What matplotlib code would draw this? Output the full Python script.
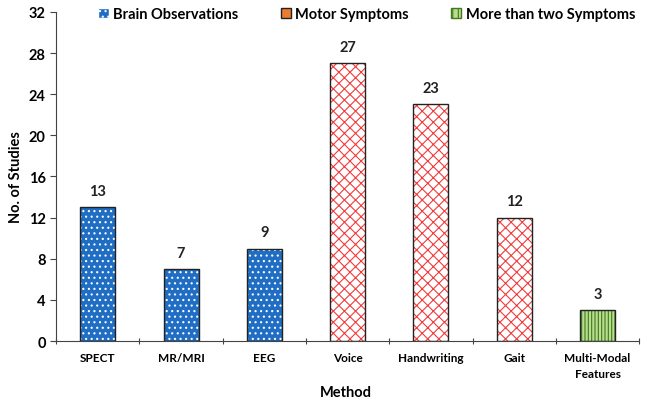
import matplotlib.pyplot as plt
from matplotlib.patches import Patch
import numpy as np

# Data
methods = ["SPECT", "MR/MRI", "EEG", "Voice", "Handwriting", "Gait", "Multi-Modal\nFeatures"]
studies = [13, 7, 9, 27, 23, 12, 3]
groups = ["brain", "brain", "brain", "motor", "motor", "motor", "multi"]

styles = {
    "brain": dict(fc="#1f6ec4", hatch="...", hc="white"),
    "motor": dict(fc="white", hatch="xxx", hc="#f03c3c"),
    "multi": dict(fc="#b9dc8e", hatch="|||||", hc="#3f7a1e"),
}

plt.rcParams['font.family'] = ['Lato', 'DejaVu Sans']
plt.rcParams['hatch.linewidth'] = 0.8

fig = plt.figure(figsize=(6.45, 4.02), dpi=100)
ax = fig.add_axes([0.087, 0.149, 0.904, 0.819])

x = np.arange(len(methods))
w = 0.42
for xi, v, g in zip(x, studies, groups):
    s = styles[g]
    ax.bar(xi, v, w, color=s["fc"], hatch=s["hatch"], edgecolor=s["hc"], linewidth=0, zorder=2)
    ax.bar(xi, v, w, fill=False, edgecolor="#222222", linewidth=1.0, zorder=3)
    ax.text(xi, v + 0.9, str(v), ha='center', va='bottom', fontsize=10.5, fontweight='bold', color='#222222')

ax.set_xlim(-0.5, len(methods) - 0.5)
ax.set_ylim(0, 32)
ax.set_yticks(range(0, 33, 4))
ax.set_xticks(np.arange(-0.5, len(methods), 1.0))
ax.set_xticklabels([])
ax.set_xticks(x, minor=True)
ax.set_xticklabels(methods, minor=True, fontsize=8.5, fontweight='bold', linespacing=1.5)
ax.tick_params(axis='x', which='minor', length=0, pad=8)
ax.tick_params(axis='x', which='major', length=5, direction='inout', color='#444444')
ax.tick_params(axis='y', length=4, direction='out', labelsize=10.5, color='#444444')
for lab in ax.get_yticklabels():
    lab.set_fontweight('bold')
for sp in ['top', 'right']:
    ax.spines[sp].set_visible(False)
for sp in ['left', 'bottom']:
    ax.spines[sp].set_color('#444444')

fig.text(0.537, 0.022, "Method", ha='center', va='center', fontsize=10.5, fontweight='bold')
ax.set_ylabel("No. of Studies", fontsize=10.5, fontweight='bold', labelpad=4)

handles = [
    Patch(facecolor="#1f6ec4", edgecolor="white", hatch="...", label="Brain Observations"),
    Patch(facecolor="#ee7b30", edgecolor="#222222", label="Motor Symptoms"),
    Patch(facecolor="#b9dc8e", edgecolor="#3f7a1e", hatch="|||", label="More than two Symptoms"),
]
fig.legend(handles=handles, loc='upper right', bbox_to_anchor=(1.005, 1.012), ncol=3, frameon=False,
           prop=dict(weight='bold', size=10.5), handlelength=0.7, handleheight=0.7,
           handletextpad=0.3, columnspacing=2.9)

fig.savefig("out.png", dpi=100)
